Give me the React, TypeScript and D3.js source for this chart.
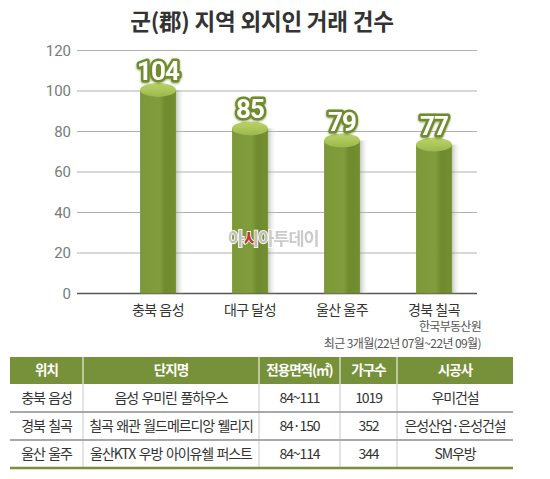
import React from 'react';
import * as d3 from 'd3';

const categories = ['충북 음성', '대구 달성', '울산 울주', '경북 칠곡'];
const counts = [104, 85, 79, 77];
const yTicks = [0, 20, 40, 60, 80, 100, 120];

const tableHeaders = ['위치', '단지명', '전용면적(㎡)', '가구수', '시공사'];
const tableLocations = ['충북 음성', '경북 칠곡', '울산 울주'];
const tableComplexes = ['음성 우미린 풀하우스', '칠곡 왜관 월드메르디앙 웰리지', '울산KTX 우방 아이유쉘 퍼스트'];
const tableAreas = ['84~111', '84·150', '84~114'];
const tableHouseholds = ['1019', '352', '344'];
const tableBuilders = ['우미건설', '은성산업·은성건설', 'SM우방'];

const W = 550;
const H = 479;
const KR = '"Noto Sans CJK KR", "Noto Sans", sans-serif';
const OLIVE = '#77913a';

export default function App() {
  const x = d3
    .scaleBand<string>()
    .domain(categories)
    .range([112, 480])
    .paddingInner(0.61)
    .paddingOuter(0.305);
  const y = d3.scaleLinear().domain([0, 120]).range([293.5, 50.5]);

  // table columns
  const colEdges = [10, 83, 259, 340, 397, 513];
  const tableTop = 357;
  const headerH = 27;
  const rowH = 28;
  const rows = tableLocations.map((loc, i) => [
    loc,
    tableComplexes[i],
    tableAreas[i],
    tableHouseholds[i],
    tableBuilders[i],
  ]);

  const bw = x.bandwidth();
  const ry = 7;

  return (
    <svg width={W} height={H} style={{ position: 'absolute', left: 0, top: 0, background: '#fff' }}>
      <defs>
        <linearGradient id="barBody" x1="0" x2="1" y1="0" y2="0">
          <stop offset="0%" stopColor="#7c9838" />
          <stop offset="55%" stopColor="#809c3c" />
          <stop offset="70%" stopColor="#6f8a2e" />
          <stop offset="100%" stopColor="#748f31" />
        </linearGradient>
        <linearGradient id="barTop" x1="0" x2="0" y1="0" y2="1">
          <stop offset="0%" stopColor="#bcd46a" />
          <stop offset="100%" stopColor="#9bb84a" />
        </linearGradient>
        <linearGradient id="shadow" x1="0" x2="1" y1="0" y2="0">
          <stop offset="0%" stopColor="#7a8a6a" stopOpacity={0.45} />
          <stop offset="100%" stopColor="#ffffff" stopOpacity={0} />
        </linearGradient>
        <filter id="lblShadow" x="-30%" y="-30%" width="160%" height="160%">
          <feDropShadow dx="0" dy="1" stdDeviation="1.2" floodColor="#4a5e1a" floodOpacity="0.6" />
        </filter>
        <clipPath id="wmRed">
          <rect x={245} y={225} width={9.5} height={25} />
        </clipPath>
      </defs>

      {/* title */}
      <text
        x={262}
        y={30}
        textAnchor="middle"
        fontFamily={KR}
        fontWeight={700}
        fontSize={22.5}
        fill="#333"
        letterSpacing={-0.2}
      >
        군(郡) 지역 외지인 거래 건수
      </text>

      {/* grid + y ticks */}
      {yTicks.map((t) => (
        <g key={t}>
          <line
            x1={77}
            x2={477}
            y1={y(t)}
            y2={y(t)}
            stroke={t === 0 ? '#555' : '#b0b0b0'}
            strokeWidth={t === 0 ? 1.3 : 1}
          />
          <text
            x={71}
            y={y(t)}
            dy="0.35em"
            textAnchor="end"
            fontFamily="Roboto, sans-serif"
            fontSize={15}
            fill="#7a7a7a"
          >
            {t}
          </text>
        </g>
      ))}

      {/* bars */}
      {categories.map((c, i) => {
        const x0 = x(c) as number;
        const top = y(counts[i]);
        const bottom = y(0);
        return (
          <g key={c}>
            <rect x={x0 + bw} y={top + ry} width={9} height={bottom - top - ry} fill="url(#shadow)" />
            <rect x={x0} y={top + ry} width={bw} height={bottom - top - ry} fill="url(#barBody)" />
            <ellipse cx={x0 + bw / 2} cy={top + ry} rx={bw / 2} ry={ry} fill="url(#barTop)" />
            <text
              x={x0 + bw / 2}
              y={top - 3}
              textAnchor="middle"
              fontFamily="Roboto, sans-serif"
              fontWeight={700}
              fontSize={26}
              letterSpacing={-1}
              fill="#fff"
              stroke="#6f8c2c"
              strokeWidth={5}
              strokeLinejoin="round"
              paintOrder="stroke"
              filter="url(#lblShadow)"
            >
              {counts[i]}
            </text>
            <text
              x={x0 + bw / 2}
              y={315}
              textAnchor="middle"
              fontFamily={KR}
              fontSize={14}
              letterSpacing={-0.5}
              fill="#333"
            >
              {c}
            </text>
          </g>
        );
      })}

      {/* watermark */}
      <g fontFamily={KR} fontWeight={700} fontSize={17.5} letterSpacing={-1}>
        <text x={228} y={245} fill="#c6c6c6" stroke="#fff" strokeWidth={2} paintOrder="stroke" opacity={0.9}>
          아시아투데이
        </text>
        <text x={228} y={245} fill="#c0392b" clipPath="url(#wmRed)">
          아시아투데이
        </text>
      </g>

      {/* source */}
      <text x={481} y={331} textAnchor="end" fontFamily={KR} fontSize={12} letterSpacing={-0.7} fill="#555">
        한국부동산원
      </text>
      <text x={481} y={348} textAnchor="end" fontFamily={KR} fontSize={12} letterSpacing={-0.6} fill="#555">
        최근 3개월(22년 07월~22년 09월)
      </text>

      {/* table */}
      <rect x={colEdges[0]} y={tableTop} width={colEdges[5] - colEdges[0]} height={headerH} fill={OLIVE} />
      {colEdges.slice(1, 5).map((cx) => (
        <g key={cx}>
          <line x1={cx} x2={cx} y1={tableTop} y2={tableTop + headerH} stroke="#fff" strokeWidth={1} />
          <line
            x1={cx}
            x2={cx}
            y1={tableTop + headerH}
            y2={tableTop + headerH + rowH * 3}
            stroke="#c8c8c8"
            strokeWidth={1}
          />
        </g>
      ))}
      {tableHeaders.map((h, j) => (
        <text
          key={h}
          x={(colEdges[j] + colEdges[j + 1]) / 2}
          y={tableTop + headerH / 2}
          dy="0.36em"
          textAnchor="middle"
          fontFamily={KR}
          fontWeight={700}
          fontSize={13.5}
          letterSpacing={-1}
          fill="#fff"
        >
          {h}
        </text>
      ))}
      {rows.map((r, i) => {
        const ry0 = tableTop + headerH + i * rowH;
        return (
          <g key={i}>
            {i > 0 && (
              <line
                x1={colEdges[0]}
                x2={colEdges[5]}
                y1={ry0}
                y2={ry0}
                stroke="#a8a8a8"
                strokeWidth={2}
              />
            )}
            {r.map((v, j) => (
              <text
                key={j}
                x={(colEdges[j] + colEdges[j + 1]) / 2}
                y={ry0 + rowH / 2}
                dy="0.36em"
                textAnchor="middle"
                fontFamily={KR}
                fontSize={14}
                letterSpacing={-1.1}
                wordSpacing={1.5}
                fill="#333"
              >
                {v}
              </text>
            ))}
          </g>
        );
      })}
      <line
        x1={colEdges[0]}
        x2={colEdges[5]}
        y1={tableTop + headerH + rowH * 3}
        y2={tableTop + headerH + rowH * 3}
        stroke={OLIVE}
        strokeWidth={2.5}
      />
    </svg>
  );
}
